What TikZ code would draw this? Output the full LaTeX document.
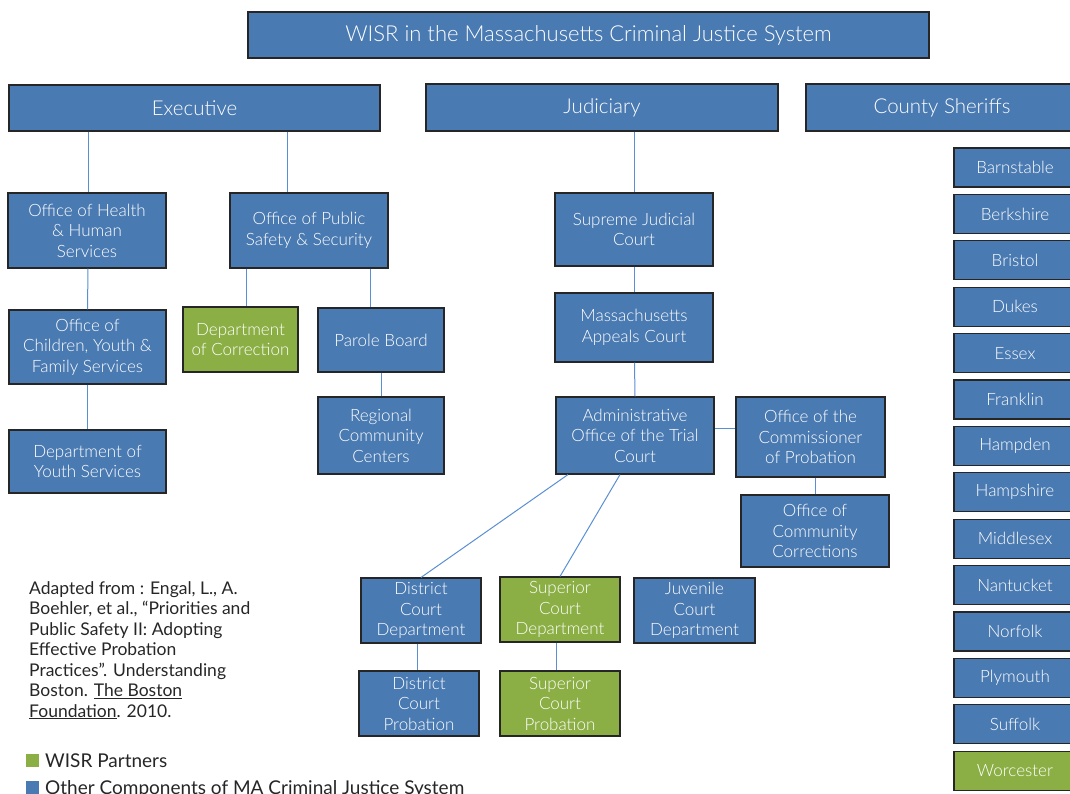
\documentclass[tikz,border=0pt]{standalone}
\usepackage{fontspec}
\setmainfont{Lato Light}
\newfontfamily\notefont{Lato}
\usetikzlibrary{positioning}

\definecolor{boxblue}{HTML}{4A7AB2}
\definecolor{boxgreen}{HTML}{8BAF45}
\definecolor{linkblue}{HTML}{5B8FD3}
\definecolor{textgray}{HTML}{262626}

\begin{document}
\begin{tikzpicture}[x=1pt,y=-1pt,
    orgbox/.style={draw=black!85,line width=1.1pt,text=white,align=center,
      inner sep=0pt,font=\fontsize{17}{20.5}\selectfont},
    bluebox/.style={orgbox,fill=boxblue},
    greenbox/.style={orgbox,fill=boxgreen},
    headbox/.style={bluebox,font=\fontsize{20.5}{24}\selectfont},
    link/.style={draw=linkblue,line width=1pt}]
      \useasboundingbox (0,0) rectangle (1070,793);
      \clip (0,0) rectangle (1070,793);
      % top row
      \node[headbox,minimum width=681,minimum height=46,font=\fontsize{22}{26}\selectfont] (title) at (588.5,35) {WISR in the Massachusetts Criminal Justice System};
      \node[headbox,minimum width=371,minimum height=46] (exec) at (194.5,108) {Executive};
      \node[headbox,minimum width=352,minimum height=47] (judic) at (602,107.5) {Judiciary};
      \node[headbox,minimum width=272,minimum height=47] (sheriffs) at (942,107.5) {County Sheriffs};
      % executive branch
      \node[bluebox,minimum width=158,minimum height=75] (ohhs) at (87,230.5) {Office of Health\\ \& Human\\ Services};
      \node[bluebox,minimum width=158,minimum height=75] (opss) at (309,230.5) {Office of Public\\ Safety \& Security};
      \node[bluebox,minimum width=157,minimum height=74] (ocyfs) at (87.5,347) {Office of\\ Children, Youth \&\\ Family Services};
      \node[bluebox,minimum width=157,minimum height=63] (dys) at (87.5,461.5) {Department of\\ Youth Services};
      \node[greenbox,minimum width=115,minimum height=65] (doc) at (240.5,339.5) {Department\\ of Correction};
      \node[bluebox,minimum width=126,minimum height=64] (parole) at (381,340) {Parole Board};
      \node[bluebox,minimum width=126,minimum height=77] (rcc) at (381,435.5) {Regional\\ Community\\ Centers};
      % judiciary
      \node[bluebox,minimum width=158,minimum height=73] (sjc) at (634,229.5) {Supreme Judicial\\ Court};
      \node[bluebox,minimum width=158,minimum height=69] (mac) at (634,327.5) {Massachusetts\\ Appeals Court};
      \node[bluebox,minimum width=158,minimum height=77] (aotc) at (635,435.5) {Administrative\\ Office of the Trial\\ Court};
      \node[bluebox,minimum width=149,minimum height=80] (ocp) at (810.5,437) {Office of the\\ Commissioner\\ of Probation};
      \node[bluebox,minimum width=148,minimum height=72] (occ) at (815,531) {Office of\\ Community\\ Corrections};
      \node[bluebox,minimum width=120,minimum height=65] (dcd) at (421,610.5) {District\\ Court\\ Department};
      \node[greenbox,minimum width=120,minimum height=65] (scd) at (560,609.5) {Superior\\ Court\\ Department};
      \node[bluebox,minimum width=121,minimum height=65] (jcd) at (694.5,610.5) {Juvenile\\ Court\\ Department};
      \node[bluebox,minimum width=120,minimum height=65] (dcp) at (419,703.5) {District\\ Court\\ Probation};
      \node[greenbox,minimum width=120,minimum height=65] (scp) at (560,703.5) {Superior\\ Court\\ Probation};
      % sheriffs
      \foreach \cname/\cfill [count=\i from 0] in {Barnstable/boxblue,Berkshire/boxblue,Bristol/boxblue,
          Dukes/boxblue,Essex/boxblue,Franklin/boxblue,Hampden/boxblue,Hampshire/boxblue,
          Middlesex/boxblue,Nantucket/boxblue,Norfolk/boxblue,Plymouth/boxblue,Suffolk/boxblue,
          Worcester/boxgreen}
        \node[orgbox,fill=\cfill,minimum width=122,minimum height=39] (county\i) at (1015,167.5+46.4*\i) {\cname};
      % connectors
      \draw[link] ([xshift=-106.5pt]exec.south) -- ([xshift=1pt]ohhs.north);
      \draw[link] ([xshift=92.5pt]exec.south) -- ([xshift=-22pt]opss.north);
      \draw[link] ([xshift=1pt]ohhs.south) -- (ocyfs.north);
      \draw[link] (ocyfs.south) -- (dys.north);
      \draw[link] ([xshift=-63pt]opss.south) -- ([xshift=5.5pt]doc.north);
      \draw[link] ([xshift=61pt]opss.south) -- ([xshift=-11pt]parole.north);
      \draw[link] (parole.south) -- (rcc.north);
      \draw[link] ([xshift=32pt]judic.south) -- (sjc.north);
      \draw[link] (sjc.south) -- (mac.north);
      \draw[link] ([xshift=0.5pt]mac.south) -- (aotc.north);
      \draw[link] ([yshift=7.5pt]aotc.east) -- ([yshift=9pt]ocp.west);
      \draw[link] ([xshift=4.5pt]ocp.south) -- (occ.north);
      \draw[link] ([xshift=-67pt]aotc.south) -- (dcd.north);
      \draw[link] ([xshift=-15pt]aotc.south) -- (scd.north);
      \draw[link] ([xshift=-4pt]dcd.south) -- ([xshift=-2pt]dcp.north);
      \draw[link] ([xshift=-4pt]scd.south) -- ([xshift=-4pt]scp.north);
      % source and legend
      \node[anchor=north west,align=left,inner sep=0pt,text=textgray,
        font=\notefont\fontsize{17.5}{20.5}\selectfont] (source) at (29,581)
        {Adapted from : Engal, L., A.\\ Boehler, et al., “Priorities and\\ Public Safety II: Adopting\\
         Effective Probation\\ Practices”. Understanding\\ Boston. \underline{The Boston}\\ \underline{Foundation}. 2010.};
      \fill[boxgreen] (26,754) rectangle (39,767);
      \node[anchor=west,inner sep=0pt,text=textgray,font=\notefont\fontsize{19}{21}\selectfont] (partners) at (45,761) {WISR Partners};
      \fill[boxblue] (26,781) rectangle (39,794);
      \node[anchor=west,inner sep=0pt,text=textgray,font=\notefont\fontsize{19}{21}\selectfont] (others) at (45,789) {Other Components of MA Criminal Justice System};
\end{tikzpicture}
\end{document}
